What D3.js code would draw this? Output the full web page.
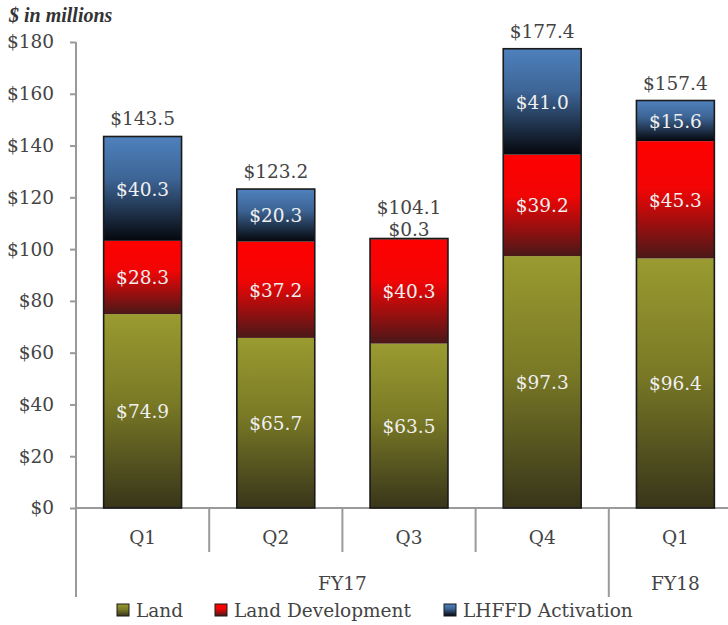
<!DOCTYPE html>
<head>
<style>
  body { margin: 0; background: #fff; }
  svg { font-family: "DejaVu Serif", "Liberation Serif", serif; }
</style>
</head>
<body>
<svg width="728" height="625"></svg>
<script src="https://d3js.org/d3.v7.min.js"></script>
<script>

var quarters = ["Q1", "Q2", "Q3", "Q4", "Q1"];
var years = ["FY17", "FY17", "FY17", "FY17", "FY18"];
var land = [74.9, 65.7, 63.5, 97.3, 96.4];
var landDev = [28.3, 37.2, 40.3, 39.2, 45.3];
var lhffd = [40.3, 20.3, 0.3, 41.0, 15.6];
var totals = [143.5, 123.2, 104.1, 177.4, 157.4];
var seriesNames = ["Land", "Land Development", "LHFFD Activation"];
var yTicks = [0, 20, 40, 60, 80, 100, 120, 140, 160, 180];

var svg = d3.select("svg");

var x = d3.scaleBand()
    .domain(d3.range(quarters.length))
    .range([76, 742])
    .paddingInner(0.415)
    .paddingOuter(0.2075);

var y = d3.scaleLinear().domain([0, 180]).range([508, 42]);

var fmt = function(v) { return "$" + d3.format(".1f")(v); };

// gradients
var grads = [
  { id: "gLand", stops: [[0, "#9a9b30"], [0.45, "#7a7a26"], [1, "#38351a"]] },
  { id: "gDev", stops: [[0, "#ff0000"], [0.4, "#f20505"], [1, "#4a1818"]] },
  { id: "gLh", stops: [[0, "#4f81bd"], [0.4, "#3d6596"], [1, "#05070c"]] }
];
var defs = svg.append("defs");
grads.forEach(function(g) {
  var lg = defs.append("linearGradient").attr("id", g.id)
      .attr("x1", 0).attr("y1", 0).attr("x2", 0).attr("y2", 1);
  g.stops.forEach(function(s) {
    lg.append("stop").attr("offset", s[0]).attr("stop-color", s[1]);
  });
});

var rows = quarters.map(function(q, i) {
  return { i: i, Land: land[i], "Land Development": landDev[i], "LHFFD Activation": lhffd[i] };
});
var stacked = d3.stack().keys(seriesNames)(rows);
var fills = ["url(#gLand)", "url(#gDev)", "url(#gLh)"];

// y axis
var gy = svg.append("g").attr("transform", "translate(76,0)")
    .call(d3.axisLeft(y).tickValues(yTicks).tickSize(6).tickPadding(16)
      .tickFormat(function(d) { return "$" + d; }));
gy.select(".domain").remove();
gy.selectAll(".tick line").attr("stroke", "#9a9a9a").attr("stroke-width", 2);
gy.selectAll(".tick text").attr("fill", "#444").attr("font-size", 18.5)
    .attr("font-family", "DejaVu Serif");

svg.append("line").attr("x1", 76).attr("x2", 76).attr("y1", y(180)).attr("y2", 597)
    .attr("stroke", "#9a9a9a").attr("stroke-width", 2);
svg.append("line").attr("x1", 76).attr("x2", 728).attr("y1", y(0)).attr("y2", y(0))
    .attr("stroke", "#9a9a9a").attr("stroke-width", 2);

// bars
stacked.forEach(function(layer, k) {
  svg.append("g").selectAll("rect").data(layer).enter().append("rect")
      .attr("x", function(d, i) { return x(i); })
      .attr("width", x.bandwidth())
      .attr("y", function(d) { return y(d[1]); })
      .attr("height", function(d) { return y(d[0]) - y(d[1]); })
      .attr("fill", fills[k]);
});

// bar outline
svg.append("g").selectAll("rect").data(totals).enter().append("rect")
    .attr("x", function(d, i) { return x(i); })
    .attr("width", x.bandwidth())
    .attr("y", function(d) { return y(d); })
    .attr("height", function(d) { return y(0) - y(d); })
    .attr("fill", "none").attr("stroke", "#1a1a1a").attr("stroke-width", 1.6);

// segment labels
stacked.forEach(function(layer, k) {
  svg.append("g").selectAll("text").data(layer).enter().append("text")
      .attr("x", function(d, i) { return x(i) + x.bandwidth() / 2; })
      .attr("y", function(d) {
        var v = d[1] - d[0];
        if (v < 5) return y(d[1]) - 2;
        return (y(d[0]) + y(d[1])) / 2 + 7;
      })
      .attr("text-anchor", "middle")
      .attr("font-size", 18.5)
      .attr("fill", function(d) { return (d[1] - d[0]) < 5 ? "#444" : "#f0f0f0"; })
      .text(function(d) { return fmt(d[1] - d[0]); });
});

// totals
svg.append("g").selectAll("text").data(totals).enter().append("text")
    .attr("x", function(d, i) { return x(i) + x.bandwidth() / 2; })
    .attr("y", function(d, i) { return y(d) - (lhffd[i] < 5 ? 24 : 11); })
    .attr("text-anchor", "middle")
    .attr("font-size", 18.5)
    .attr("fill", "#444")
    .text(fmt);

// category axis
var step = x.step();
quarters.forEach(function(q, i) {
  var cx = x(i) + x.bandwidth() / 2;
  svg.append("text").attr("x", cx).attr("y", 544).attr("text-anchor", "middle")
      .attr("font-size", 18.5).attr("fill", "#444").text(q);
  if (i > 0) {
    var edge = x(i) - (step - x.bandwidth()) / 2;
    var groupEdge = years[i] !== years[i - 1];
    svg.append("line").attr("x1", edge).attr("x2", edge)
        .attr("y1", y(0)).attr("y2", groupEdge ? 597 : 552)
        .attr("stroke", "#9a9a9a").attr("stroke-width", 2);
  }
});
var groups = d3.groups(d3.range(quarters.length), function(i) { return years[i]; });
groups.forEach(function(g) {
  var idx = g[1];
  var left = x(idx[0]) - (step - x.bandwidth()) / 2;
  var right = x(idx[idx.length - 1]) + x.bandwidth() + (step - x.bandwidth()) / 2;
  svg.append("text").attr("x", (left + right) / 2).attr("y", 590).attr("text-anchor", "middle")
      .attr("font-size", 18.5).attr("fill", "#444").text(g[0]);
});

// units label
svg.append("text").attr("x", 9).attr("y", 22)
    .attr("font-family", "Liberation Serif")
    .attr("font-size", 20).attr("font-weight", "bold").attr("font-style", "italic")
    .attr("fill", "#333").text("$ in millions");

// legend
var legX = [117, 215, 444];
var leg = svg.append("g").selectAll("g").data(seriesNames).enter().append("g")
    .attr("transform", function(d, i) { return "translate(" + legX[i] + ",604)"; });
leg.append("rect").attr("width", 12).attr("height", 12)
    .attr("fill", function(d, i) { return fills[i]; })
    .attr("stroke", "#1a1a1a").attr("stroke-width", 1);
leg.append("text").attr("x", 19).attr("y", 13).attr("font-size", 18.5).attr("fill", "#444")
    .text(function(d) { return d; });

</script>
</body>
